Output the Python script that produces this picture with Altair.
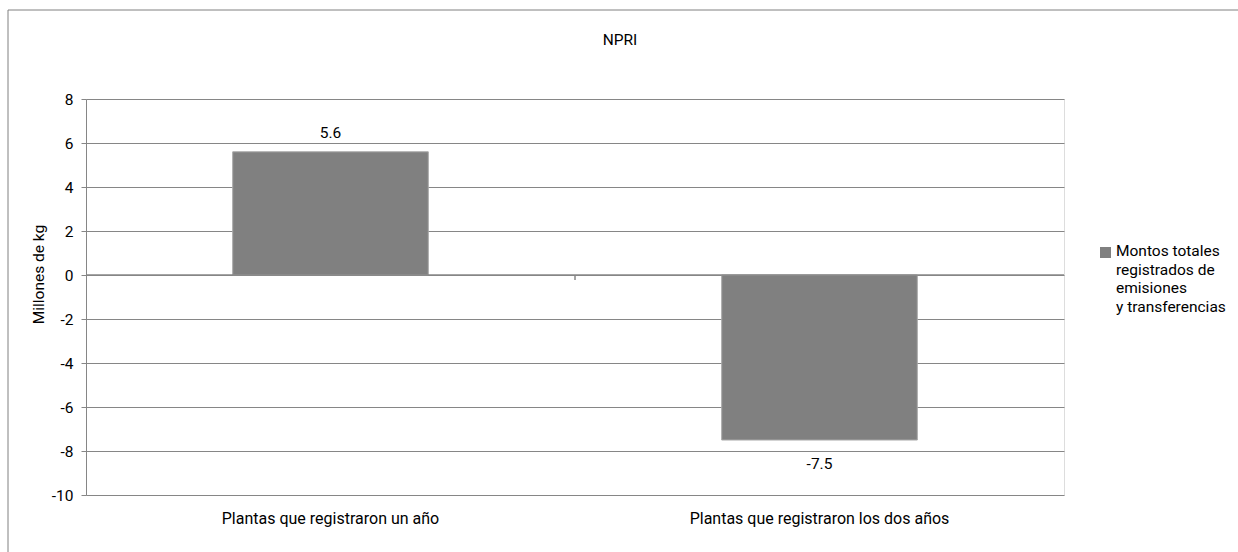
import altair as alt
import pandas as pd

# Values in millions of kg
categories = ["Plantas que registraron un año", "Plantas que registraron los dos años"]
values = [5.6, -7.5]
series_name = "Montos totales\nregistrados de\nemisiones\ny transferencias"
y_ticks = [-10, -8, -6, -4, -2, 0, 2, 4, 6, 8]
chart_title = "NPRI"

df = pd.DataFrame({
    "categoria": categories,
    "valor": values,
    "serie": [series_name] * len(categories),
})
legend_df = pd.DataFrame({"serie": [series_name]})

FONT = "Roboto, sans-serif"
FS = 15.5
GRID = "#868686"
BAR = "#808080"

color_scale = alt.Scale(domain=[series_name], range=[BAR])

x_enc = alt.X(
    "categoria:N",
    sort=categories,
    scale=alt.Scale(paddingInner=0.6, paddingOuter=0.3),
    axis=alt.Axis(
        title=None, domain=False, ticks=False, labelAngle=0, labelLimit=0,
        labelPadding=15, labelFontSize=16, labelColor="#000000", labelFont=FONT,
    ),
)
y_scale = alt.Scale(domain=[-10, 8], nice=False, zero=True)

bars = alt.Chart(df).mark_bar(stroke="#a8a8a8", strokeWidth=1).encode(
    x=x_enc,
    y=alt.Y(
        "valor:Q",
        scale=y_scale,
        axis=alt.Axis(
            values=y_ticks, labelExpr="toString(datum.value)", title="Millones de kg",
            titleFont=FONT, titleFontSize=FS, titleFontWeight="normal",
            titleColor="#000000", titleX=-48, titleY=175,
            titleAlign="center", titleBaseline="middle",
            labelFont=FONT, labelFontSize=FS, labelColor="#000000", labelPadding=8,
            tickSize=5, tickColor=GRID, domainColor=GRID,
            gridColor=GRID, gridWidth=1,
        ),
    ),
    color=alt.Color("serie:N", scale=color_scale, legend=None),
)

# Value labels: above positive bars, below negative ones
label_base = alt.Chart(df).transform_calculate(
    texto="toString(datum.valor)"
).encode(
    x=alt.X("categoria:N", sort=categories),
    y=alt.Y("valor:Q", scale=y_scale),
    text="texto:N",
)
labels_pos = label_base.transform_filter("datum.valor >= 0").mark_text(
    font=FONT, fontSize=FS, color="#000000", baseline="middle", dy=-19
)
labels_neg = label_base.transform_filter("datum.valor < 0").mark_text(
    font=FONT, fontSize=FS, color="#000000", baseline="middle", dy=24
)

# Category axis line at zero with its separator tick
zero_line = alt.Chart(df).mark_rule(color=GRID, strokeWidth=1).encode(y=alt.datum(0))
separator_tick = alt.Chart(df).mark_rule(color=GRID, strokeWidth=1).encode(
    x=alt.value(489), y=alt.value(176), y2=alt.value(181)
)

# Legend: swatch and wrapped series name
legend_swatch = alt.Chart(legend_df).mark_square(size=121, opacity=1).encode(
    x=alt.value(1019.5), y=alt.value(153.5),
    color=alt.Color("serie:N", scale=color_scale, legend=None),
)
legend_text = alt.Chart(legend_df).transform_calculate(
    lineas="split(datum.serie, '\\n')"
).mark_text(
    font=FONT, fontSize=FS, color="#000000", align="left", baseline="top", lineHeight=18.5
).encode(
    x=alt.value(1030), y=alt.value(145), text="lineas:N",
)

# Chart title
title_text = alt.Chart(legend_df).mark_text(
    font=FONT, fontSize=FS, color="#000000", align="center", baseline="middle"
).encode(
    x=alt.value(534), y=alt.value(-59), text=alt.value(chart_title),
)

# Outer frame (top and left edges)
frame_top = alt.Chart(legend_df).mark_rule(color="#808080", strokeWidth=1).encode(
    x=alt.value(-78), x2=alt.value(1160), y=alt.value(-89)
)
frame_left = alt.Chart(legend_df).mark_rule(color="#808080", strokeWidth=1).encode(
    x=alt.value(-78), y=alt.value(-89), y2=alt.value(470)
)

chart = alt.layer(
    frame_top, frame_left, bars, zero_line, separator_tick,
    labels_pos, labels_neg, legend_swatch, legend_text, title_text,
).properties(
    width=978,
    height=396,
    autosize=alt.AutoSizeParams(type="none"),
    padding={"left": 86, "top": 99, "right": 174, "bottom": 57},
).configure_view(
    stroke="#b4b4b4", strokeWidth=1.5
).configure(background="#ffffff")

chart.save("out.html", embed_options={"renderer": "svg", "actions": False})
